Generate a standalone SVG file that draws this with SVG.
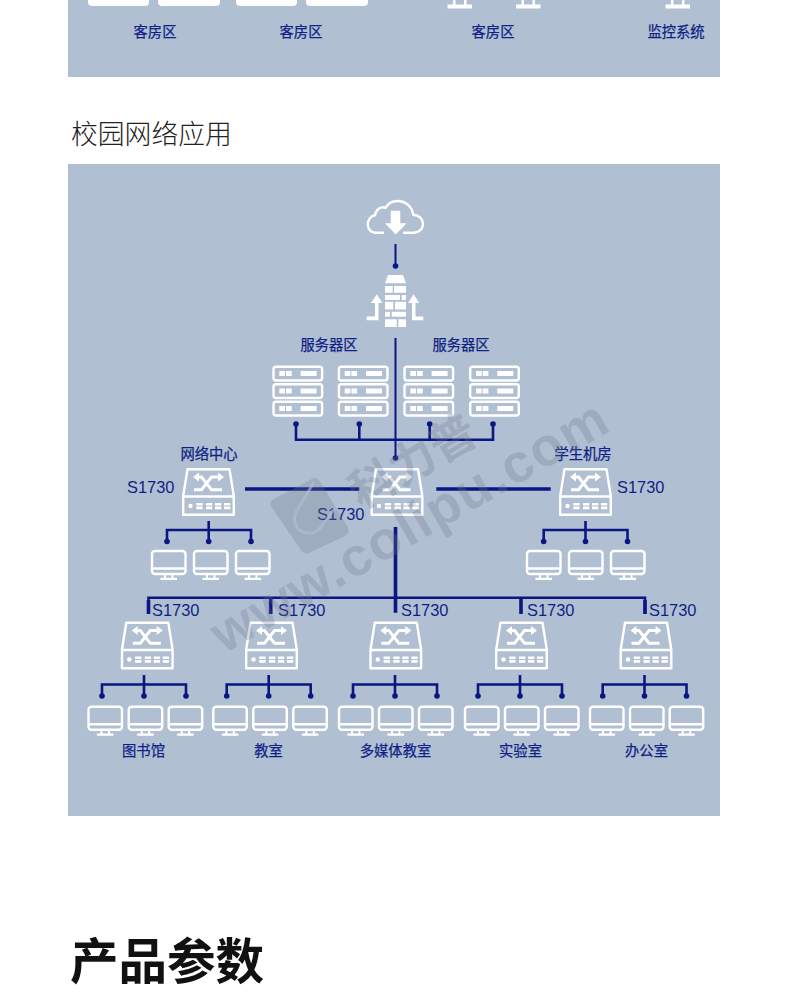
<svg xmlns="http://www.w3.org/2000/svg" width="790" height="1000" viewBox="0 0 790 1000">
<style>
.panel{fill:#b1bfd2}
.lbl{font-family:"Liberation Sans","Noto Sans CJK SC",sans-serif;fill:#101f85;stroke:#101f85;stroke-width:.25;font-size:14.3px;text-anchor:middle}
.mod{font-family:"Liberation Sans",sans-serif;fill:#101f85;font-size:16.4px}
.ol{fill:none;stroke:#fff;stroke-width:2.4;stroke-linejoin:round}
.w{fill:#fff}
.c{fill:none;stroke:#0a1682;stroke-width:2.6}
.t{stroke-width:3.6}
.n{stroke-width:2}
.d{fill:#0a1682}
.wm{font-family:"Liberation Sans","Noto Sans CJK SC",sans-serif;font-weight:700;fill:#6f7a8e;opacity:.28}
</style>
<defs>
<g id="sw">
<path class="ol" d="M5.500 1.200H47.500L51.800 28V46.800H1.200V28Z"/>
<path class="ol" d="M1.200 28.500H51.800"/>
<path fill="none" stroke="#fff" stroke-width="3" d="M12 21.700H19.500L29.500 9H37M14 9H19.500L29.500 21.700H40"/>
<path class="w" d="M36 4.500L42 9L36 13.500ZM17 4.500L11 9L17 13.500Z"/>
<circle class="w" cx="8.500" cy="38" r="2.200"/>
<path class="w" d="M14.300 35h6.300v2.600h-6.300zM14.300 38.600h6.300v2.600h-6.300zM24 35h6.300v2.600H24zM24 38.600h6.300v2.600H24zM33 35h6.300v2.600H33zM33 38.600h6.300v2.600H33zM42 35h6.300v2.600H42zM42 38.600h6.300v2.600H42z"/>
</g>
<g id="mon">
<rect class="ol" x="1" y="1" width="33.500" height="23" rx="3"/>
<path class="ol" d="M1 18.500H34.500"/>
<path class="w" d="M13 25h2v3h-2zM20.500 25h2v3h-2zM9.500 27.800h16.500v2.200H9.500z"/>
</g>
<g id="srv">
<rect class="ol" x="1.200" y="1.200" width="48.600" height="13.800" rx="2.500"/>
<path class="w" d="M7 5.500h5.700v5H7zM13.700 5.500h5.700v5h-5.700zM28.300 5.500h16v5h-16z"/>
</g>
<g id="srvs">
<use href="#srv"/><use href="#srv" y="17.500"/><use href="#srv" y="35"/>
</g>
</defs>

<rect width="790" height="1000" fill="#fff"/>
<rect class="panel" x="68" y="0" width="652" height="77"/>
<rect class="panel" x="68" y="164" width="652" height="652"/>

<g id="top-fragment">
<g class="w">
<path d="M88 0H149V2a4 4 0 0 1-4 4H92a4 4 0 0 1-4-4Z"/>
<path d="M158 0H220V2a4 4 0 0 1-4 4H162a4 4 0 0 1-4-4Z"/>
<path d="M236 0H297V2a4 4 0 0 1-4 4H240a4 4 0 0 1-4-4Z"/>
<path d="M306 0H368V2a4 4 0 0 1-4 4H310a4 4 0 0 1-4-4Z"/>
<path d="M453 0h2.500v4.500h8.500V0h2.500v4.500h5.500v4H447.500v-4H453Z"/>
<path d="M521.500 0h2.500v4.500h8.500V0h2.500v4.500h5.500v4H516v-4h5.500Z"/>
<path d="M671 0h2.500v4.500h8.500V0h2.500v4.500h5.500v4H665.500v-4H671Z"/>
</g>
<text class="lbl" x="155" y="37">客房区</text>
<text class="lbl" x="301" y="37">客房区</text>
<text class="lbl" x="493" y="37">客房区</text>
<text class="lbl" x="676" y="37">监控系统</text>
</g>

<text x="71" y="144" font-family="'Noto Sans CJK SC',sans-serif" font-weight="300" font-size="26.800" fill="#222">校园网络应用</text>
<text x="70" y="979" font-family="'Noto Sans CJK SC',sans-serif" font-weight="700" font-size="48.500" fill="#111">产品参数</text>

<g id="connectors">
<path class="c n" d="M395.500 244V266M395.500 338V458"/>
<path class="c" d="M296 424V439.700H493V424M359.300 424V439.700M429.700 424V439.700"/>
<path class="c t" d="M245 489H359.300M436.300 489H550.700M395.500 527V612.700"/>
<path class="c" stroke-width="3" d="M148.500 614V597.700H645V614"/>
<path class="c t" d="M148.500 600V614M270.700 597.700V614M521 597.700V614M645 600V614"/>
<path class="c" d="M208.700 521V541M167 541V530H251V541"/>
<path class="c" d="M585.500 521V541M543.700 541V530H627.500V541"/>
<path class="c" d="M144 675V696M102 696V684.500H186V696"/>
<path class="c" d="M268.700 675V696M226.700 696V684.500H310.700V696"/>
<path class="c" d="M395 675V696M353 696V684.500H437V696"/>
<path class="c" d="M520 675V696M478 696V684.500H562V696"/>
<path class="c" d="M644.500 675V696M602.700 696V684.500H686.500V696"/>
<g class="d">
<circle cx="395.500" cy="266" r="2.800"/><circle cx="395.500" cy="458" r="2.800"/>
<circle cx="296" cy="424" r="2.800"/><circle cx="359.300" cy="424" r="2.800"/><circle cx="429.700" cy="424" r="2.800"/><circle cx="493" cy="424" r="2.800"/>
<circle cx="167" cy="541.500" r="2.800"/><circle cx="208.700" cy="541.500" r="2.800"/><circle cx="251" cy="541.500" r="2.800"/>
<circle cx="543.700" cy="541.500" r="2.800"/><circle cx="585.500" cy="541.500" r="2.800"/><circle cx="627.500" cy="541.500" r="2.800"/>
<circle cx="102" cy="696" r="2.800"/><circle cx="144" cy="696" r="2.800"/><circle cx="186" cy="696" r="2.800"/>
<circle cx="226.700" cy="696" r="2.800"/><circle cx="268.700" cy="696" r="2.800"/><circle cx="310.700" cy="696" r="2.800"/>
<circle cx="353" cy="696" r="2.800"/><circle cx="395" cy="696" r="2.800"/><circle cx="437" cy="696" r="2.800"/>
<circle cx="478" cy="696" r="2.800"/><circle cx="520" cy="696" r="2.800"/><circle cx="562" cy="696" r="2.800"/>
<circle cx="602.700" cy="696" r="2.800"/><circle cx="644.500" cy="696" r="2.800"/><circle cx="686.500" cy="696" r="2.800"/>
</g>
</g>

<g id="cloud">
<path class="ol" stroke-width="2.800" d="M384 232.700H375C370.500 232.700 367.800 228.500 367.800 224.500C367.800 219.500 371 215.800 375 215.300C375.500 209.500 381 206 385.500 207.800C388 203.500 392.500 201 397.500 201C406 201 412 207 413.300 214.800C419 215 423 219.300 423 224C423 229 419 232.700 414 232.700H403"/>
<path class="w" d="M390.700 210.700H400.300V223.300H406.700L395.700 234.500L385 223.300H390.700Z"/>
</g>

<g id="firewall" class="w">
<path d="M388 275H403L406 283.300H385Z"/>
<path d="M385 286h7.700v6.700H385zM394 286h12v6.700h-12z"/>
<path d="M385 295h15v5h-15zM401.700 295h4.300v5h-4.300z"/>
<path d="M385 301.700h8.300v7.700H385zM395 301.700h11v7.700h-11z"/>
<path d="M385 311.700h5v5h-5zM391.700 311.700h14.300v5h-14.300z"/>
<path d="M385 319.300h11.700v7.700H385zM398.300 319.300h7.700v7.700h-7.700z"/>
<path d="M366.700 316.500H375V303H371L376.800 294.300L382.500 303H378.500V320.200H366.700Z"/>
<path d="M423.300 316.500H415.500V303H419.300L413.500 294.300L408 303H412V320.200H423.300Z"/>
</g>

<g id="server-zone-left">
<use href="#srvs" x="272.300" y="365.500"/>
<use href="#srvs" x="337.700" y="365.500"/>
<text class="lbl" x="329" y="350">服务器区</text>
</g>
<g id="server-zone-right">
<use href="#srvs" x="403.300" y="365.500"/>
<use href="#srvs" x="469" y="365.500"/>
<text class="lbl" x="461" y="350">服务器区</text>
</g>

<g id="net-center">
<text class="lbl" x="209" y="459">网络中心</text>
<text class="mod" x="127" y="493">S1730</text>
<use href="#sw" x="182" y="468"/>
<use href="#mon" x="151" y="550"/><use href="#mon" x="193" y="550"/><use href="#mon" x="235" y="550"/>
</g>
<g id="core">
<text class="mod" x="317" y="520">S1730</text>
<use href="#sw" x="370.500" y="468"/>
</g>
<g id="student-lab">
<text class="lbl" x="583" y="459">学生机房</text>
<text class="mod" x="617" y="493">S1730</text>
<use href="#sw" x="559" y="468"/>
<use href="#mon" x="526" y="550"/><use href="#mon" x="568" y="550"/><use href="#mon" x="610" y="550"/>
</g>

<g id="library">
<text class="mod" x="152" y="616">S1730</text>
<use href="#sw" x="120.800" y="621.500"/>
<use href="#mon" x="87.500" y="705.700"/><use href="#mon" x="127.700" y="705.700"/><use href="#mon" x="167.700" y="705.700"/>
<text class="lbl" x="143.500" y="756">图书馆</text>
</g>
<g id="classroom">
<text class="mod" x="278" y="616">S1730</text>
<use href="#sw" x="245" y="621.500"/>
<use href="#mon" x="212.300" y="705.700"/><use href="#mon" x="252.300" y="705.700"/><use href="#mon" x="292.300" y="705.700"/>
<text class="lbl" x="268.500" y="756">教室</text>
</g>
<g id="media-room">
<text class="mod" x="401" y="616">S1730</text>
<use href="#sw" x="369.300" y="621.500"/>
<use href="#mon" x="338" y="705.700"/><use href="#mon" x="378" y="705.700"/><use href="#mon" x="418" y="705.700"/>
<text class="lbl" x="395.500" y="756">多媒体教室</text>
</g>
<g id="lab">
<text class="mod" x="527" y="616">S1730</text>
<use href="#sw" x="495" y="621.500"/>
<use href="#mon" x="464" y="705.700"/><use href="#mon" x="504" y="705.700"/><use href="#mon" x="544" y="705.700"/>
<text class="lbl" x="520.500" y="756">实验室</text>
</g>
<g id="office">
<text class="mod" x="649" y="616">S1730</text>
<use href="#sw" x="619.500" y="621.500"/>
<use href="#mon" x="589" y="705.700"/><use href="#mon" x="629" y="705.700"/><use href="#mon" x="668.700" y="705.700"/>
<text class="lbl" x="646.500" y="756">办公室</text>
</g>

<g id="watermark">
<text class="wm" font-size="54" transform="translate(224 654) rotate(-30)" textLength="448" lengthAdjust="spacing">www.colipu.com</text>
<text class="wm" font-size="46" transform="translate(361 510) rotate(-30)">科力普</text>
<path fill="#6f7a8e" opacity=".28" d="M276 498L310 480Q315 476 319 480L347 526Q351 532 345 536L311 552Q305 556 301 550L271 506Q269 501 276 498Z"/>
<path fill="none" stroke="#b1bfd2" stroke-opacity=".6" stroke-width="3" d="M314 482L296 512Q291 526 303 532Q314 536 321 527L335 508"/>
</g>
</svg>
